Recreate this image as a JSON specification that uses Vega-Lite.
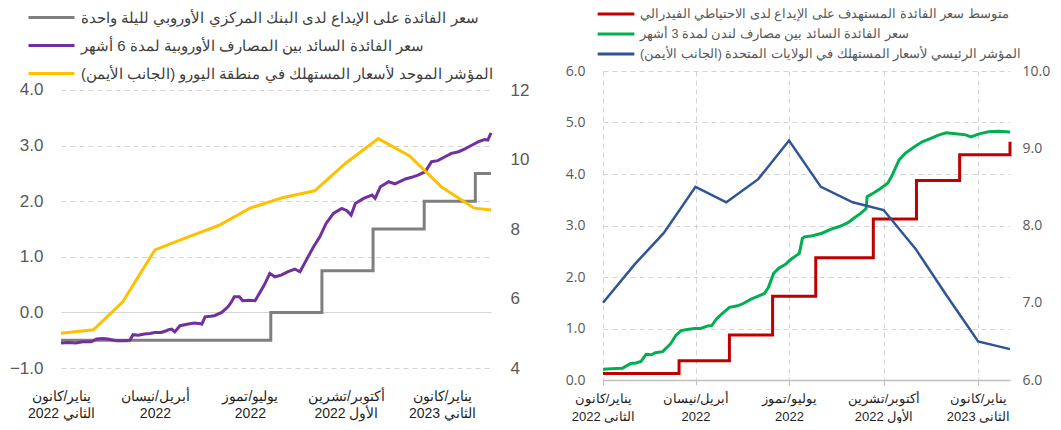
{
  "$schema": "https://vega.github.io/schema/vega-lite/v6.json",
  "background": "white",
  "padding": {"left": 9, "top": 6, "right": 4, "bottom": 0},
  "columns": 2,
  "spacing": 36,
  "datasets": {
    "leftgrid": [
      {"date": "2022-01-01"}, {"date": "2022-04-01"}, {"date": "2022-07-01"}, {"date": "2022-10-01"}, {"date": "2023-01-01"}
    ],
    "ecb": [
      {"date": "2022-01-01", "value": -0.5},
      {"date": "2022-07-21", "value": 0},
      {"date": "2022-09-08", "value": 0.75},
      {"date": "2022-10-27", "value": 1.5},
      {"date": "2022-12-15", "value": 2.0},
      {"date": "2023-02-02", "value": 2.5},
      {"date": "2023-02-17", "value": 2.5}
    ],
    "euribor": [
      {"date": "2022-01-01", "value": -0.55}, {"date": "2022-01-08", "value": -0.54}, {"date": "2022-01-15", "value": -0.55},
      {"date": "2022-01-22", "value": -0.53}, {"date": "2022-01-30", "value": -0.53}, {"date": "2022-02-04", "value": -0.48},
      {"date": "2022-02-10", "value": -0.47}, {"date": "2022-02-15", "value": -0.48}, {"date": "2022-02-23", "value": -0.51},
      {"date": "2022-03-05", "value": -0.51}, {"date": "2022-03-08", "value": -0.5}, {"date": "2022-03-11", "value": -0.4},
      {"date": "2022-03-16", "value": -0.41}, {"date": "2022-03-22", "value": -0.39}, {"date": "2022-03-27", "value": -0.38},
      {"date": "2022-04-01", "value": -0.36}, {"date": "2022-04-07", "value": -0.36}, {"date": "2022-04-12", "value": -0.33},
      {"date": "2022-04-14", "value": -0.31}, {"date": "2022-04-17", "value": -0.3}, {"date": "2022-04-20", "value": -0.35},
      {"date": "2022-04-25", "value": -0.24}, {"date": "2022-05-03", "value": -0.21}, {"date": "2022-05-09", "value": -0.19},
      {"date": "2022-05-13", "value": -0.2}, {"date": "2022-05-16", "value": -0.21}, {"date": "2022-05-19", "value": -0.08},
      {"date": "2022-05-24", "value": -0.07}, {"date": "2022-05-28", "value": -0.06}, {"date": "2022-06-04", "value": 0.0},
      {"date": "2022-06-10", "value": 0.1}, {"date": "2022-06-13", "value": 0.18}, {"date": "2022-06-16", "value": 0.28},
      {"date": "2022-06-21", "value": 0.28}, {"date": "2022-06-24", "value": 0.21}, {"date": "2022-07-01", "value": 0.22},
      {"date": "2022-07-06", "value": 0.21}, {"date": "2022-07-09", "value": 0.31}, {"date": "2022-07-15", "value": 0.5},
      {"date": "2022-07-20", "value": 0.7}, {"date": "2022-07-25", "value": 0.64}, {"date": "2022-07-31", "value": 0.67},
      {"date": "2022-08-06", "value": 0.73}, {"date": "2022-08-13", "value": 0.78}, {"date": "2022-08-18", "value": 0.73},
      {"date": "2022-08-24", "value": 0.94}, {"date": "2022-08-31", "value": 1.18}, {"date": "2022-09-06", "value": 1.36},
      {"date": "2022-09-12", "value": 1.6}, {"date": "2022-09-19", "value": 1.78}, {"date": "2022-09-27", "value": 1.87},
      {"date": "2022-10-02", "value": 1.83}, {"date": "2022-10-06", "value": 1.75}, {"date": "2022-10-10", "value": 1.96},
      {"date": "2022-10-18", "value": 2.05}, {"date": "2022-10-26", "value": 2.11}, {"date": "2022-10-29", "value": 2.05},
      {"date": "2022-11-03", "value": 2.26}, {"date": "2022-11-11", "value": 2.35}, {"date": "2022-11-17", "value": 2.31},
      {"date": "2022-11-27", "value": 2.4}, {"date": "2022-12-03", "value": 2.43}, {"date": "2022-12-09", "value": 2.47},
      {"date": "2022-12-16", "value": 2.53}, {"date": "2022-12-22", "value": 2.71}, {"date": "2022-12-28", "value": 2.73},
      {"date": "2023-01-04", "value": 2.8}, {"date": "2023-01-10", "value": 2.86}, {"date": "2023-01-17", "value": 2.89},
      {"date": "2023-01-23", "value": 2.94}, {"date": "2023-01-30", "value": 3.01}, {"date": "2023-02-05", "value": 3.07},
      {"date": "2023-02-11", "value": 3.11}, {"date": "2023-02-14", "value": 3.1}, {"date": "2023-02-17", "value": 3.23}
    ],
    "hicp": [
      {"date": "2022-01-01", "value": 5.0}, {"date": "2022-02-01", "value": 5.1}, {"date": "2022-03-01", "value": 5.9},
      {"date": "2022-04-01", "value": 7.4}, {"date": "2022-05-01", "value": 7.75}, {"date": "2022-06-01", "value": 8.1},
      {"date": "2022-07-01", "value": 8.6}, {"date": "2022-08-01", "value": 8.9}, {"date": "2022-09-01", "value": 9.1},
      {"date": "2022-10-01", "value": 9.9}, {"date": "2022-11-01", "value": 10.6}, {"date": "2022-12-01", "value": 10.1},
      {"date": "2023-01-01", "value": 9.2}, {"date": "2023-02-01", "value": 8.6}, {"date": "2023-02-17", "value": 8.55}
    ],
    "fed": [
      {"date": "2022-01-01", "value": 0.125}, {"date": "2022-03-16", "value": 0.375}, {"date": "2022-05-04", "value": 0.875},
      {"date": "2022-06-15", "value": 1.625}, {"date": "2022-07-27", "value": 2.375}, {"date": "2022-09-21", "value": 3.125},
      {"date": "2022-11-02", "value": 3.875}, {"date": "2022-12-14", "value": 4.375}, {"date": "2023-02-01", "value": 4.625}
    ],
    "libor": [
      {"date": "2022-01-01", "value": 0.21}, {"date": "2022-01-09", "value": 0.22}, {"date": "2022-01-20", "value": 0.23},
      {"date": "2022-01-28", "value": 0.32}, {"date": "2022-02-02", "value": 0.33}, {"date": "2022-02-07", "value": 0.36},
      {"date": "2022-02-12", "value": 0.5}, {"date": "2022-02-17", "value": 0.49}, {"date": "2022-02-21", "value": 0.53},
      {"date": "2022-02-28", "value": 0.55}, {"date": "2022-03-03", "value": 0.61}, {"date": "2022-03-08", "value": 0.71},
      {"date": "2022-03-13", "value": 0.87}, {"date": "2022-03-18", "value": 0.96}, {"date": "2022-03-24", "value": 0.98},
      {"date": "2022-03-31", "value": 1.0}, {"date": "2022-04-06", "value": 1.0}, {"date": "2022-04-13", "value": 1.05},
      {"date": "2022-04-17", "value": 1.06}, {"date": "2022-04-22", "value": 1.2}, {"date": "2022-04-27", "value": 1.29},
      {"date": "2022-05-04", "value": 1.41}, {"date": "2022-05-12", "value": 1.44}, {"date": "2022-05-18", "value": 1.49},
      {"date": "2022-05-25", "value": 1.57}, {"date": "2022-05-31", "value": 1.62}, {"date": "2022-06-07", "value": 1.68},
      {"date": "2022-06-11", "value": 1.8}, {"date": "2022-06-16", "value": 2.07}, {"date": "2022-06-21", "value": 2.17},
      {"date": "2022-06-28", "value": 2.25}, {"date": "2022-07-02", "value": 2.33}, {"date": "2022-07-09", "value": 2.43},
      {"date": "2022-07-11", "value": 2.46}, {"date": "2022-07-14", "value": 2.75}, {"date": "2022-07-16", "value": 2.78},
      {"date": "2022-07-24", "value": 2.8}, {"date": "2022-08-02", "value": 2.85}, {"date": "2022-08-11", "value": 2.93},
      {"date": "2022-08-19", "value": 2.98}, {"date": "2022-08-27", "value": 3.05}, {"date": "2022-09-02", "value": 3.14},
      {"date": "2022-09-09", "value": 3.24}, {"date": "2022-09-14", "value": 3.33}, {"date": "2022-09-15", "value": 3.56},
      {"date": "2022-09-22", "value": 3.64}, {"date": "2022-09-28", "value": 3.72}, {"date": "2022-10-05", "value": 3.82},
      {"date": "2022-10-09", "value": 3.96}, {"date": "2022-10-13", "value": 4.14}, {"date": "2022-10-16", "value": 4.27},
      {"date": "2022-10-22", "value": 4.4}, {"date": "2022-10-31", "value": 4.53}, {"date": "2022-11-08", "value": 4.63},
      {"date": "2022-11-16", "value": 4.69}, {"date": "2022-11-24", "value": 4.76}, {"date": "2022-12-01", "value": 4.8},
      {"date": "2022-12-10", "value": 4.78}, {"date": "2022-12-20", "value": 4.76}, {"date": "2022-12-25", "value": 4.72},
      {"date": "2023-01-02", "value": 4.78}, {"date": "2023-01-11", "value": 4.82}, {"date": "2023-01-21", "value": 4.83},
      {"date": "2023-01-29", "value": 4.82}, {"date": "2023-02-01", "value": 4.81}
    ],
    "uscpi": [
      {"date": "2022-01-01", "value": 7.0}, {"date": "2022-02-01", "value": 7.5}, {"date": "2022-03-01", "value": 7.9},
      {"date": "2022-04-01", "value": 8.5}, {"date": "2022-05-01", "value": 8.3}, {"date": "2022-06-01", "value": 8.6},
      {"date": "2022-07-01", "value": 9.1}, {"date": "2022-08-01", "value": 8.5}, {"date": "2022-09-01", "value": 8.3},
      {"date": "2022-10-01", "value": 8.2}, {"date": "2022-11-01", "value": 7.7}, {"date": "2022-12-01", "value": 7.1},
      {"date": "2023-01-01", "value": 6.5}, {"date": "2023-02-01", "value": 6.4}
    ]
  },
  "concat": [
    {
      "width": 430,
      "height": 297,
      "encoding": {
        "x": {
          "field": "date", "type": "temporal",
          "scale": {"type": "utc", "domain": [{"year": 2022, "month": 1, "date": 1, "utc": true}, {"year": 2023, "month": 2, "date": 17, "utc": true}]},
          "axis": {
            "title": null,
            "values": [
              {"year": 2022, "month": 1, "date": 1, "utc": true},
              {"year": 2022, "month": 4, "date": 1, "utc": true},
              {"year": 2022, "month": 7, "date": 1, "utc": true},
              {"year": 2022, "month": 10, "date": 1, "utc": true},
              {"year": 2023, "month": 1, "date": 1, "utc": true}
            ],
            "labelExpr": "utcmonth(datum.value) == 0 ? ['يناير/كانون', 'الثاني ' + utcyear(datum.value)] : utcmonth(datum.value) == 3 ? ['أبريل/نيسان', '2022'] : utcmonth(datum.value) == 6 ? ['يوليو/تموز', '2022'] : ['أكتوبر/تشرين', 'الأول 2022']",
            "grid": false, "ticks": false, "domain": false,
            "labelFont": "Liberation Sans", "labelFontSize": 14, "labelColor": "#1f1f1f",
            "labelPadding": 21, "labelLineHeight": 17, "labelBaseline": "top",
            "labelOverlap": false, "labelFlush": false, "labelAlign": "center"
          }
        }
      },
      "layer": [
        {
          "encoding": {
            "y": {
              "field": "value", "type": "quantitative",
              "scale": {"domain": [-1, 4.3417], "nice": false, "zero": false},
              "axis": {
                "title": null, "orient": "left", "values": [-1, 0, 1, 2, 3, 4], "format": ".1f",
                "grid": true, "gridColor": "#d4d4d4",
                "gridDash": {"condition": {"test": "datum.value === 0", "value": []}, "value": [5, 4]},
                "ticks": false, "domain": false,
                "labelFont": "Liberation Sans", "labelFontSize": 17, "labelColor": "#595959", "labelPadding": 18
              }
            }
          },
          "layer": [
            {
              "data": {"name": "leftgrid"},
              "mark": {"type": "rule", "color": "#d0d0d0", "strokeWidth": 1, "strokeDash": [5, 4]},
              "encoding": {
                "y": {"datum": -1, "type": "quantitative"},
                "y2": {"datum": 4}
              }
            },
            {
              "data": {"name": "ecb"},
              "mark": {"type": "line", "interpolate": "step-after", "strokeWidth": 3},
              "encoding": {
                "color": {
                  "datum": "سعر الفائدة على الإيداع لدى البنك المركزي الأوروبي لليلة واحدة", "type": "nominal",
                  "scale": {
                    "domain": ["سعر الفائدة على الإيداع لدى البنك المركزي الأوروبي لليلة واحدة", "سعر الفائدة السائد بين المصارف الأوروبية لمدة 6 أشهر", "المؤشر الموحد لأسعار المستهلك في منطقة اليورو (الجانب الأيمن)"],
                    "range": ["#7f7f7f", "#7030a0", "#ffc000"]
                  },
                  "legend": {
                    "title": null, "orient": "none", "legendX": -19, "legendY": -63, "direction": "vertical",
                    "symbolType": "M-3,0H3", "symbolSize": 235, "symbolStrokeWidth": 3,
                    "labelOffset": 20, "labelFont": "Liberation Sans", "labelFontSize": 15, "labelColor": "#404040",
                    "labelLimit": 600, "rowPadding": 10, "padding": 0
                  }
                }
              }
            },
            {
              "data": {"name": "euribor"},
              "mark": {"type": "line", "strokeWidth": 3},
              "encoding": {
                "color": {"datum": "سعر الفائدة السائد بين المصارف الأوروبية لمدة 6 أشهر", "type": "nominal"}
              }
            }
          ]
        },
        {
          "data": {"name": "hicp"},
          "mark": {"type": "line", "strokeWidth": 3},
          "encoding": {
            "y": {
              "field": "value", "type": "quantitative",
              "scale": {"domain": [4, 12.547], "nice": false, "zero": false},
              "axis": {
                "title": null, "orient": "right", "values": [4, 6, 8, 10, 12], "format": "d",
                "grid": false, "ticks": false, "domain": false,
                "labelFont": "Liberation Sans", "labelFontSize": 17, "labelColor": "#595959", "labelPadding": 19
              }
            },
            "color": {"datum": "المؤشر الموحد لأسعار المستهلك في منطقة اليورو (الجانب الأيمن)", "type": "nominal"}
          }
        }
      ],
      "resolve": {"scale": {"y": "independent"}}
    },
    {
      "width": 407,
      "height": 309,
      "encoding": {
        "x": {
          "field": "date", "type": "temporal",
          "scale": {"type": "utc", "domain": [{"year": 2022, "month": 1, "date": 1, "utc": true}, {"year": 2023, "month": 2, "date": 1, "utc": true}]},
          "axis": {
            "title": null,
            "values": [
              {"year": 2022, "month": 1, "date": 1, "utc": true},
              {"year": 2022, "month": 4, "date": 1, "utc": true},
              {"year": 2022, "month": 7, "date": 1, "utc": true},
              {"year": 2022, "month": 10, "date": 1, "utc": true},
              {"year": 2023, "month": 1, "date": 1, "utc": true}
            ],
            "labelExpr": "utcmonth(datum.value) == 0 ? ['يناير/كانون', 'الثاني ' + utcyear(datum.value)] : utcmonth(datum.value) == 3 ? ['أبريل/نيسان', '2022'] : utcmonth(datum.value) == 6 ? ['يوليو/تموز', '2022'] : ['أكتوبر/تشرين', 'الأول 2022']",
            "grid": true, "gridDash": [5, 4], "gridColor": "#d4d4d4",
            "ticks": true, "tickSize": 5, "tickColor": "#bfbfbf",
            "domain": true, "domainColor": "#bfbfbf", "domainWidth": 1.5,
            "labelFont": "Liberation Sans", "labelFontSize": 13, "labelColor": "#1f1f1f",
            "labelPadding": 7, "labelLineHeight": 18, "labelBaseline": "top",
            "labelOverlap": false, "labelFlush": false, "labelAlign": "center"
          }
        }
      },
      "layer": [
        {
          "encoding": {
            "y": {
              "field": "value", "type": "quantitative",
              "scale": {"domain": [0, 6], "nice": false, "zero": false},
              "axis": {
                "title": null, "orient": "left", "values": [0, 1, 2, 3, 4, 5, 6], "format": ".1f",
                "grid": true, "gridColor": "#d4d4d4", "gridDash": [5, 4],
                "ticks": false, "domain": false,
                "labelFont": "Open Sans", "labelFontSize": 14, "labelColor": "#595959", "labelPadding": 18
              }
            }
          },
          "layer": [
            {
              "data": {"name": "fed"},
              "mark": {"type": "line", "interpolate": "step-after", "strokeWidth": 3},
              "encoding": {
                "color": {
                  "datum": "متوسط سعر الفائدة المستهدف على الإيداع لدى الاحتياطي الفيدرالي", "type": "nominal",
                  "scale": {
                    "domain": ["متوسط سعر الفائدة المستهدف على الإيداع لدى الاحتياطي الفيدرالي", "سعر الفائدة السائد بين مصارف لندن لمدة 3 أشهر", "المؤشر الرئيسي لأسعار المستهلك في الولايات المتحدة (الجانب الأيمن)"],
                    "range": ["#c00000", "#00b050", "#2f5597"]
                  },
                  "legend": {
                    "title": null, "orient": "none", "legendX": 5, "legendY": -65, "direction": "vertical",
                    "symbolType": "M-3,0H3", "symbolSize": 150, "symbolStrokeWidth": 3,
                    "labelOffset": 16, "labelFont": "Liberation Sans", "labelFontSize": 12.5, "labelColor": "#595959",
                    "labelLimit": 600, "rowPadding": 5, "padding": 0
                  }
                }
              }
            },
            {
              "data": {"name": "libor"},
              "mark": {"type": "line", "strokeWidth": 3},
              "encoding": {
                "color": {"datum": "سعر الفائدة السائد بين مصارف لندن لمدة 3 أشهر", "type": "nominal"}
              }
            }
          ]
        },
        {
          "data": {"name": "uscpi"},
          "mark": {"type": "line", "strokeWidth": 2.5},
          "encoding": {
            "y": {
              "field": "value", "type": "quantitative",
              "scale": {"domain": [6, 10], "nice": false, "zero": false},
              "axis": {
                "title": null, "orient": "right", "values": [6, 7, 8, 9, 10], "format": ".1f",
                "grid": false, "ticks": false, "domain": false,
                "labelFont": "Open Sans", "labelFontSize": 14, "labelColor": "#595959", "labelPadding": 12
              }
            },
            "color": {"datum": "المؤشر الرئيسي لأسعار المستهلك في الولايات المتحدة (الجانب الأيمن)", "type": "nominal"}
          }
        }
      ],
      "resolve": {"scale": {"y": "independent"}}
    }
  ],
  "resolve": {"scale": {"color": "independent"}, "legend": {"color": "independent"}},
  "config": {"view": {"stroke": null}}
}
